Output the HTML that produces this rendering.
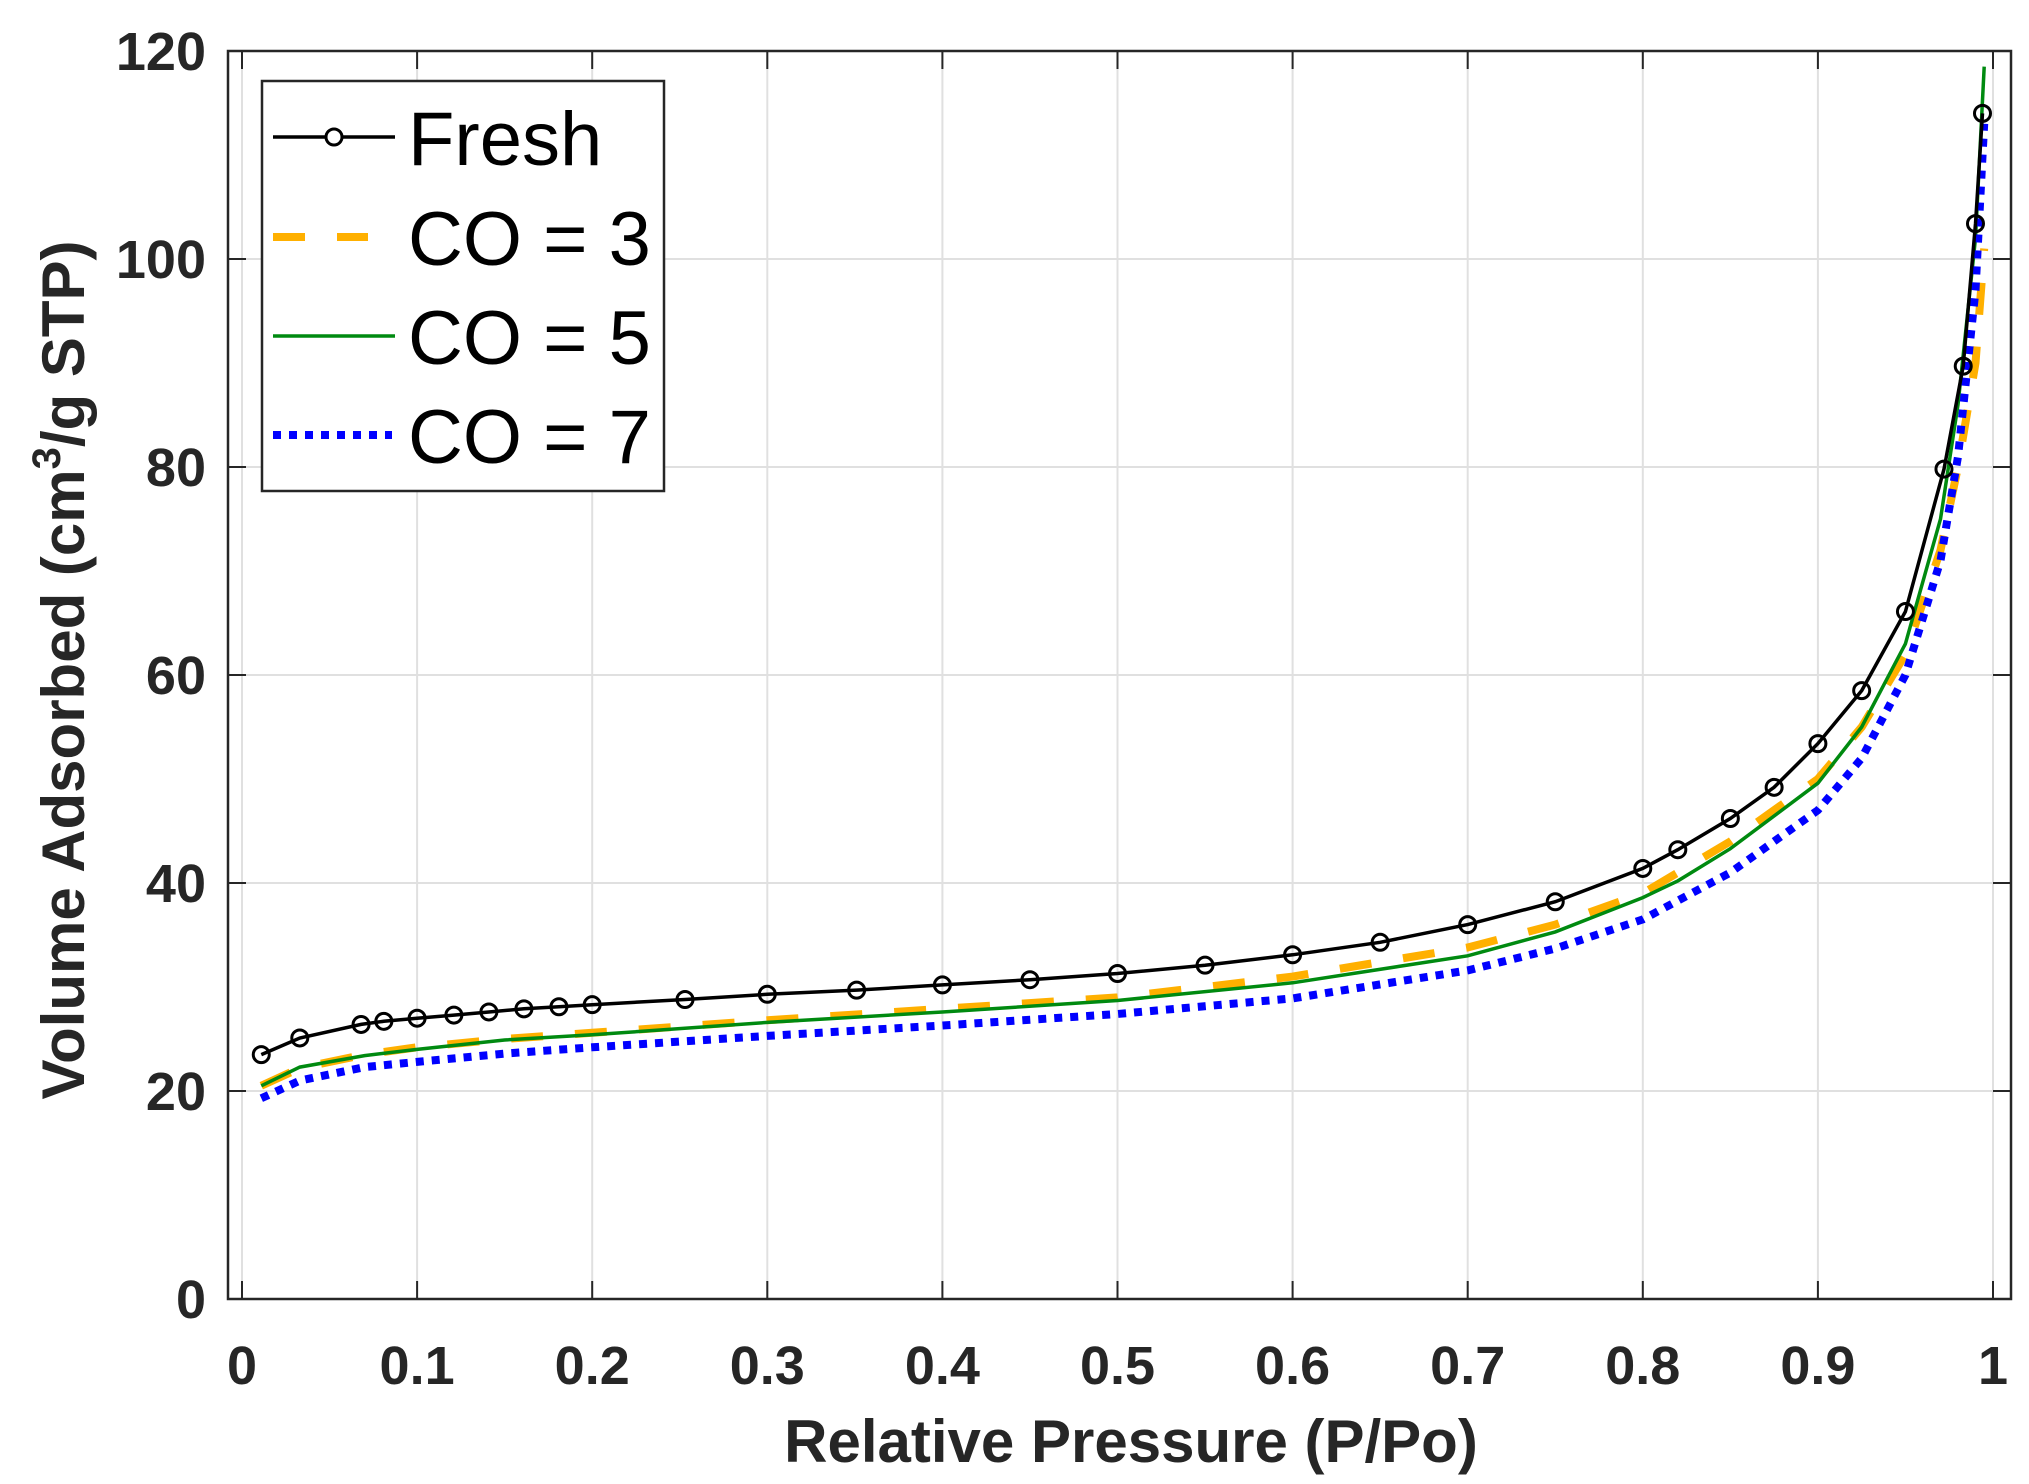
<!DOCTYPE html>
<html><head><meta charset="utf-8"><style>
html,body{margin:0;padding:0;background:#fff;}
svg{display:block;font-family:"Liberation Sans",Arial,sans-serif;}
</style></head><body>
<svg id="s" width="2029" height="1484" viewBox="0 0 2029 1484" xmlns="http://www.w3.org/2000/svg">
<rect width="2029" height="1484" fill="#fff"/>
<g id="grid"></g>
<g id="series"></g>
<rect x="228" y="51" width="1783" height="1248" fill="none" stroke="#262626" stroke-width="2.5"/>
<g id="ticks"></g>
<g id="labels" font-weight="bold" font-size="54" fill="#262626"></g>
<text x="1131" y="1462" text-anchor="middle" font-weight="bold" font-size="60" fill="#262626">Relative Pressure (P/Po)</text>
<text transform="translate(84,670) rotate(-90)" text-anchor="middle" font-weight="bold" font-size="60" fill="#262626">Volume Adsorbed (cm<tspan dy="-24" font-size="40">3</tspan><tspan dy="24">/g STP)</tspan></text>
<g>
<rect x="262" y="81" width="402" height="410" fill="#fff" stroke="#262626" stroke-width="2.5"/>
<line x1="273" y1="137" x2="395" y2="137" stroke="#000" stroke-width="3.5"/>
<circle cx="334" cy="137" r="8" fill="#fff" stroke="#000" stroke-width="3"/>
<line x1="273" y1="237" x2="368" y2="237" stroke="#FFB000" stroke-width="8" stroke-dasharray="32,32"/>
<line x1="273" y1="336" x2="395" y2="336" stroke="#008a10" stroke-width="3.5"/>
<line x1="273" y1="435" x2="392" y2="435" stroke="#0000ff" stroke-width="8" stroke-dasharray="8,8"/>
<g font-size="76" fill="#000">
<text x="408" y="165">Fresh</text>
<text x="408" y="265">CO = 3</text>
<text x="408" y="364">CO = 5</text>
<text x="408" y="463">CO = 7</text>
</g>
</g>
</svg>
<script>
var NS="http://www.w3.org/2000/svg";
function X(v){return 242+v*1751;}
function Y(v){return 1299-v*10.4;}
function el(t,a,p){var e=document.createElementNS(NS,t);for(var k in a)e.setAttribute(k,a[k]);p.appendChild(e);return e;}
var g=document.getElementById('grid'),tk=document.getElementById('ticks'),lb=document.getElementById('labels');
for(var i=0;i<=10;i++){var x=X(i/10);
 el('line',{x1:x,y1:51,x2:x,y2:1299,stroke:'#e0e0e0','stroke-width':2},g);
 el('line',{x1:x,y1:1299,x2:x,y2:1281,stroke:'#262626','stroke-width':2},tk);
 el('line',{x1:x,y1:51,x2:x,y2:69,stroke:'#262626','stroke-width':2},tk);
 var t=el('text',{x:x,y:1384,'text-anchor':'middle'},lb);t.textContent=(i==0?'0':i==10?'1':'0.'+i);}
for(var j=0;j<=6;j++){var y=Y(j*20);
 el('line',{x1:228,y1:y,x2:2011,y2:y,stroke:'#e0e0e0','stroke-width':2},g);
 el('line',{x1:228,y1:y,x2:246,y2:y,stroke:'#262626','stroke-width':2},tk);
 el('line',{x1:2011,y1:y,x2:1993,y2:y,stroke:'#262626','stroke-width':2},tk);
 var t=el('text',{x:206,y:y+19,'text-anchor':'end'},lb);t.textContent=String(j*20);}
var fresh=[[0.011,23.5],[0.033,25.1],[0.068,26.4],[0.081,26.7],[0.1,27],[0.121,27.3],[0.141,27.6],[0.161,27.9],[0.181,28.1],[0.2,28.3],[0.253,28.8],[0.3,29.3],[0.351,29.7],[0.4,30.2],[0.45,30.7],[0.5,31.3],[0.55,32.1],[0.6,33.1],[0.65,34.3],[0.7,36],[0.75,38.2],[0.8,41.4],[0.82,43.2],[0.85,46.2],[0.875,49.2],[0.9,53.4],[0.925,58.5],[0.95,66.1],[0.972,79.8],[0.983,89.7],[0.99,103.4],[0.994,114]];
var co3=[[0.011,20.5],[0.033,22.2],[0.07,23.5],[0.1,24.2],[0.15,25],[0.2,25.6],[0.3,26.8],[0.4,27.9],[0.5,29],[0.6,31],[0.7,33.8],[0.75,36],[0.8,39],[0.85,44],[0.9,50],[0.925,55],[0.95,62],[0.97,72],[0.98,80],[0.99,90],[0.995,101]];
var co5=[[0.011,20.5],[0.033,22.3],[0.07,23.4],[0.1,24],[0.15,24.9],[0.2,25.4],[0.3,26.6],[0.4,27.6],[0.5,28.7],[0.6,30.4],[0.7,33],[0.75,35.3],[0.8,38.6],[0.82,40.2],[0.85,43.3],[0.9,49.6],[0.925,55],[0.95,63],[0.97,75],[0.98,86],[0.99,102],[0.995,118.5]];
var co7=[[0.011,19.3],[0.033,21],[0.07,22.3],[0.1,22.8],[0.15,23.6],[0.2,24.2],[0.3,25.3],[0.4,26.3],[0.5,27.4],[0.6,28.9],[0.7,31.6],[0.75,33.7],[0.8,36.5],[0.85,41],[0.9,47],[0.925,52],[0.95,60],[0.97,71],[0.98,81],[0.99,97],[0.995,113]];
function pts(d){return d.map(function(p){return X(p[0]).toFixed(1)+','+Y(p[1]).toFixed(1);}).join(' ');}
var s=document.getElementById('series');
el('polyline',{points:pts(co3),fill:'none',stroke:'#FFB000','stroke-width':8,'stroke-dasharray':'32,32'},s);
el('polyline',{points:pts(co5),fill:'none',stroke:'#008a10','stroke-width':3.5},s);
el('polyline',{points:pts(co7),fill:'none',stroke:'#0000ff','stroke-width':8,'stroke-dasharray':'8,8'},s);
el('polyline',{points:pts(fresh),fill:'none',stroke:'#000','stroke-width':3.5},s);
fresh.forEach(function(p){el('circle',{cx:X(p[0]),cy:Y(p[1]),r:8,fill:'none',stroke:'#000','stroke-width':3},s);});
</script>
</body></html>
